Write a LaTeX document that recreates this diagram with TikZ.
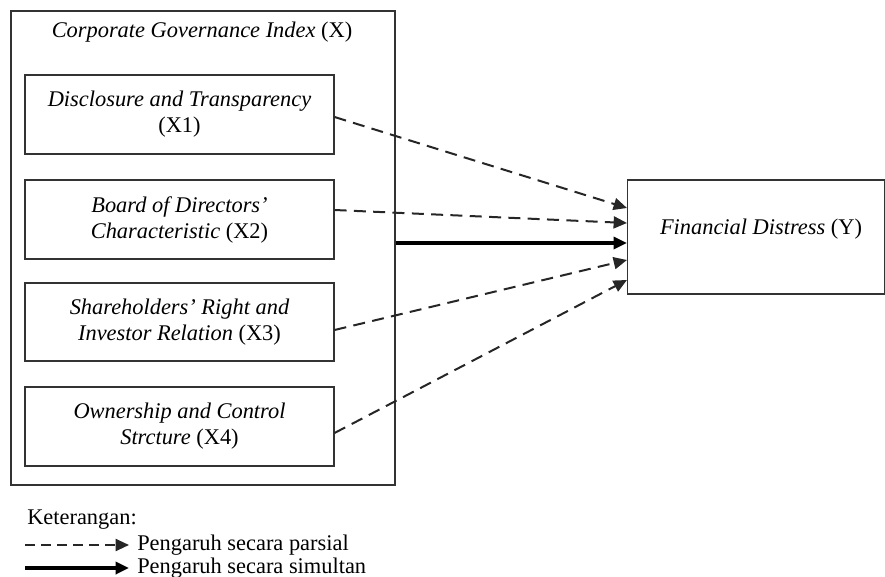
\documentclass[tikz,border=0pt]{standalone}
\usepackage{fontspec}
\setmainfont{Liberation Serif}
\usetikzlibrary{arrows.meta}
\begin{document}
\begin{tikzpicture}[x=0.75pt,y=-0.75pt,
  box/.style={draw=black!80,line width=0.8pt,rectangle,inner sep=0pt,align=center,font=\fontsize{16.8}{19.5}\selectfont},
  lbl/.style={inner sep=0pt,font=\fontsize{16.8}{19.5}\selectfont},
  partial/.style={line width=1.5pt,black!85,dash pattern=on 9pt off 5.5pt,-{Triangle[length=10pt,width=9pt]}},
  simul/.style={line width=2.6pt,black,-{Triangle[length=10pt,width=9pt]}}]
\useasboundingbox (0,0) rectangle (885,577);
% outer box
\node[box,minimum width=384*0.75pt,minimum height=474*0.75pt] (cg) at (203,248) {};
\node[lbl] (cgt) at (202,32) {\itshape Corporate Governance Index \upshape(X)};
% inner boxes
\node[box,minimum width=309*0.75pt,minimum height=79*0.75pt] (b1) at (179.5,114.5) {\itshape Disclosure and Transparency\\ (X1)};
\node[box,minimum width=309*0.75pt,minimum height=79*0.75pt] (b2) at (179.5,219.5) {\itshape Board of Directors’\\ \itshape Characteristic \upshape(X2)};
\node[box,minimum width=309*0.75pt,minimum height=78*0.75pt] (b3) at (179.5,322) {\itshape Shareholders’ Right and\\ \itshape Investor Relation \upshape(X3)};
\node[box,minimum width=309*0.75pt,minimum height=79*0.75pt] (b4) at (179.5,426.5) {\itshape Ownership and Control\\ \itshape Strcture \upshape(X4)};
% Y box
\node[box,minimum width=257*0.75pt,minimum height=114*0.75pt] (y) at (756,237) {};
\node[lbl] (yt) at (761,229) {\itshape Financial Distress \upshape(Y)};
% connectors
\draw[partial] ([yshift=-2.5*0.75pt]b1.east) -- ([yshift=29*0.75pt]y.west);
\draw[partial] ([yshift=9.5*0.75pt]b2.east) -- ([yshift=14*0.75pt]y.west);
\draw[simul] ([yshift=5*0.75pt]cg.east) -- ([yshift=-6*0.75pt]y.west);
\draw[partial] ([yshift=-8*0.75pt]b3.east) -- ([yshift=-23*0.75pt]y.west);
\draw[partial] ([yshift=-6.5*0.75pt]b4.east) -- ([yshift=-43*0.75pt]y.west);
% legend
\node[lbl,anchor=west] (ket) at (27,520) {Keterangan:};
\coordinate (l1a) at (25,545);
\coordinate (l1b) at (129,545);
\coordinate (l2a) at (25,568);
\coordinate (l2b) at (129,568);
\draw[partial,dash pattern=on 7.5pt off 4.5pt] (l1a) -- (l1b);
\draw[simul] (l2a) -- (l2b);
\node[lbl,anchor=west] (lp) at (137,545) {Pengaruh secara parsial};
\node[lbl,anchor=west] (ls) at (137,568) {Pengaruh secara simultan};
\end{tikzpicture}
\end{document}
